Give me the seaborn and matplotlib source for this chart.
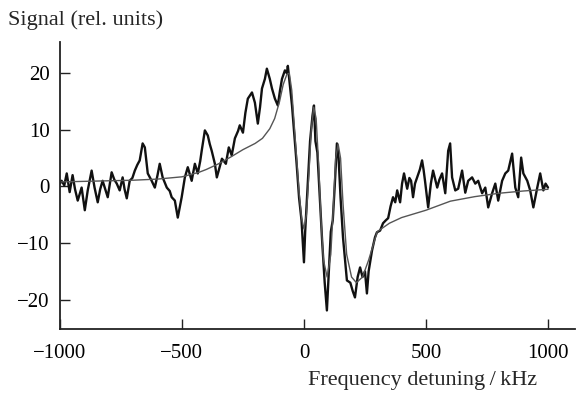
import matplotlib
matplotlib.use("Agg")
import matplotlib.pyplot as plt
import seaborn as sns
import pandas as pd

# Measured signal (noisy trace)
signal_x = [-1000, -993, -982, -972, -960, -948, -938, -927, -911, -898, -886, -870, -858, -845, -835,
            -825, -814, -804, -788, -777, -767, -755, -743, -735, -726, -714, -703, -693, -683, -673,
            -661, -652, -640, -624, -611, -600, -591, -579, -562, -550, -542, -529, -517, -508, -501,
            -488, -476, -460, -447, -435, -425, -419, -406, -394, -386, -378, -365, -357, -345, -336,
            -320, -308, -296, -283, -270, -263, -250, -240, -230, -213, -201, -189, -180, -172, -160,
            -152, -140, -131, -119, -107, -98, -90, -78, -70, -66, -57, -49, -40, -30, -20,
            -10, 0, 5, 15, 25, 35, 41, 47, 55, 65, 75, 85, 94, 102, 110,
            118, 126, 135, 142, 150, 160, 176, 190, 200, 209, 220, 230, 240, 250, 258,
            265, 279, 291, 299, 312, 324, 335, 345, 355, 365, 374, 382, 394, 402, 410,
            423, 432, 439, 447, 455, 464, 475, 484, 490, 496, 509, 520, 529, 546, 555,
            566, 579, 591, 599, 607, 620, 632, 648, 661, 673, 689, 702, 714, 730, 743,
            755, 771, 784, 796, 812, 825, 837, 853, 866, 878, 890, 899, 915, 927, 940,
            956, 968, 981, 990, 1000]
signal_y = [0.5, 1.0, 0.2, 2.3, -1.0, 2.0, -0.5, -2.5, -0.2, -4.2, -0.7, 2.8, -0.2, -2.8, -0.5,
            1.0, -0.5, -1.9, 2.5, 1.2, 0.5, -0.7, 1.6, -0.5, -2.1, 1.0, 1.5, 2.8, 3.8, 4.6,
            7.6, 6.9, 2.3, 1.0, -0.2, 2.0, 4.0, 1.6, -0.2, -0.8, -1.9, -2.5, -5.5, -3.5, -1.9,
            1.6, 3.4, 1.0, 4.0, 2.3, 4.5, 6.3, 9.9, 9.0, 7.5, 6.3, 4.0, 1.6, 3.5, 4.9,
            4.0, 6.9, 5.5, 8.5, 9.8, 10.8, 9.5, 13.0, 15.5, 16.6, 14.8, 11.1, 14.0, 17.3, 19.0,
            20.8, 19.0, 17.3, 15.5, 14.3, 17.0, 19.0, 20.5, 20.0, 21.3, 17.5, 14.3, 9.5, 4.0, -2.0,
            -6.0, -13.4, -8.0, 0.0, 8.0, 12.5, 14.3, 8.0, 6.0, -2.0, -10.0, -17.0, -21.9, -15.0, -8.0,
            -6.0, 0.0, 7.6, 5.0, -2.0, -9.0, -16.6, -17.0, -18.5, -19.6, -16.0, -14.3, -16.0, -15.0, -18.9,
            -15.0, -11.3, -9.0, -8.1, -7.8, -6.5, -6.0, -5.6, -3.5, -1.9, -2.8, -0.7, -2.8, 0.5, 2.3,
            -0.4, 1.5, 1.0, -1.9, 0.5, 1.6, 3.0, 4.6, 3.0, 1.0, -3.7, 0.5, 2.8, -0.2, 1.2,
            2.3, -1.2, 6.3, 7.6, 1.6, -0.7, -0.4, 2.8, -1.1, 1.0, 1.6, 0.5, 1.0, -1.2, -0.2,
            -3.7, -1.2, 0.5, -2.5, 1.0, 2.3, 2.8, 5.8, -0.2, -1.9, 5.1, 2.3, 1.0, -0.7, -3.7,
            -0.2, 2.3, -0.7, 0.5, -0.2]

# Fitted curve (smooth)
fit_x = [-1000, -900, -800, -700, -600, -500, -430, -400, -350, -300, -250, -200, -170, -140, -120,
         -100, -85, -70, -60, -50, -40, -30, -20, -10, 0, 10, 20, 30, 40, 50,
         60, 70, 80, 95, 110, 120, 130, 140, 150, 160, 175, 195, 215, 240, 265,
         300, 350, 400, 500, 600, 700, 800, 900, 1000]
fit_y = [0.8, 0.9, 1.0, 1.1, 1.3, 1.7, 2.5, 3.0, 4.0, 5.2, 6.5, 7.6, 8.5, 10.2, 12.0,
         15.0, 18.0, 19.8, 20.0, 17.0, 11.0, 5.0, -1.0, -5.5, -7.5, -5.0, 2.0, 10.0, 14.0, 12.0,
         4.0, -6.0, -13.0, -16.0, -12.0, -4.0, 5.0, 7.5, 5.0, -3.0, -12.0, -16.0, -17.0, -16.0, -13.0,
         -8.0, -6.5, -5.5, -4.2, -2.6, -1.8, -1.2, -0.8, -0.5]

x_ticks = [-1000, -500, 0, 500, 1000]
y_ticks = [-20, -10, 0, 10, 20]

sns.set_style("ticks")
plt.rcParams['font.family'] = ['Liberation Serif', 'DejaVu Serif']

sig_df = pd.DataFrame({"x": signal_x, "y": signal_y})
fit_df = pd.DataFrame({"x": fit_x, "y": fit_y})

fig = plt.figure(figsize=(5.76, 3.97), dpi=100)
ax = fig.add_axes([0.104, 0.171, 0.894, 0.723])

sns.lineplot(data=sig_df, x="x", y="y", ax=ax, color="#111111", linewidth=1.7,
             estimator=None, sort=False)
sns.lineplot(data=fit_df, x="x", y="y", ax=ax, color="#555555", linewidth=1.0,
             estimator=None, sort=False)

ax.set_xlim(-1000, 1110)
ax.set_ylim(-25.2, 25.5)
ax.set_xticks(x_ticks)
ax.set_yticks(y_ticks)
ax.set_xticklabels([("\u2212" + str(abs(t))) if t < 0 else str(t) for t in x_ticks])
ax.set_yticklabels([("\u2212" + str(abs(t))) if t < 0 else str(t) for t in y_ticks])
ax.tick_params(direction="in", length=7, width=1.0, labelsize=15, colors="#222222",
               labelcolor="black")
ax.tick_params(axis="x", pad=11)
ax.tick_params(axis="y", pad=7.5)
ax.set_xlabel("")
ax.set_ylabel("")
for s in ["top", "right"]:
    ax.spines[s].set_visible(False)
for s in ["left", "bottom"]:
    ax.spines[s].set_linewidth(1.3)
    ax.spines[s].set_color("#222222")

fig.text(8 / 576, 1 - 20 / 397, "Signal (rel. units)", fontsize=16, ha="left", va="center")
fig.text(537 / 576, 1 - 380 / 397, "Frequency detuning\u2009/\u2009kHz", fontsize=16,
         ha="right", va="center")

fig.savefig("out.png", dpi=100, facecolor="white")
